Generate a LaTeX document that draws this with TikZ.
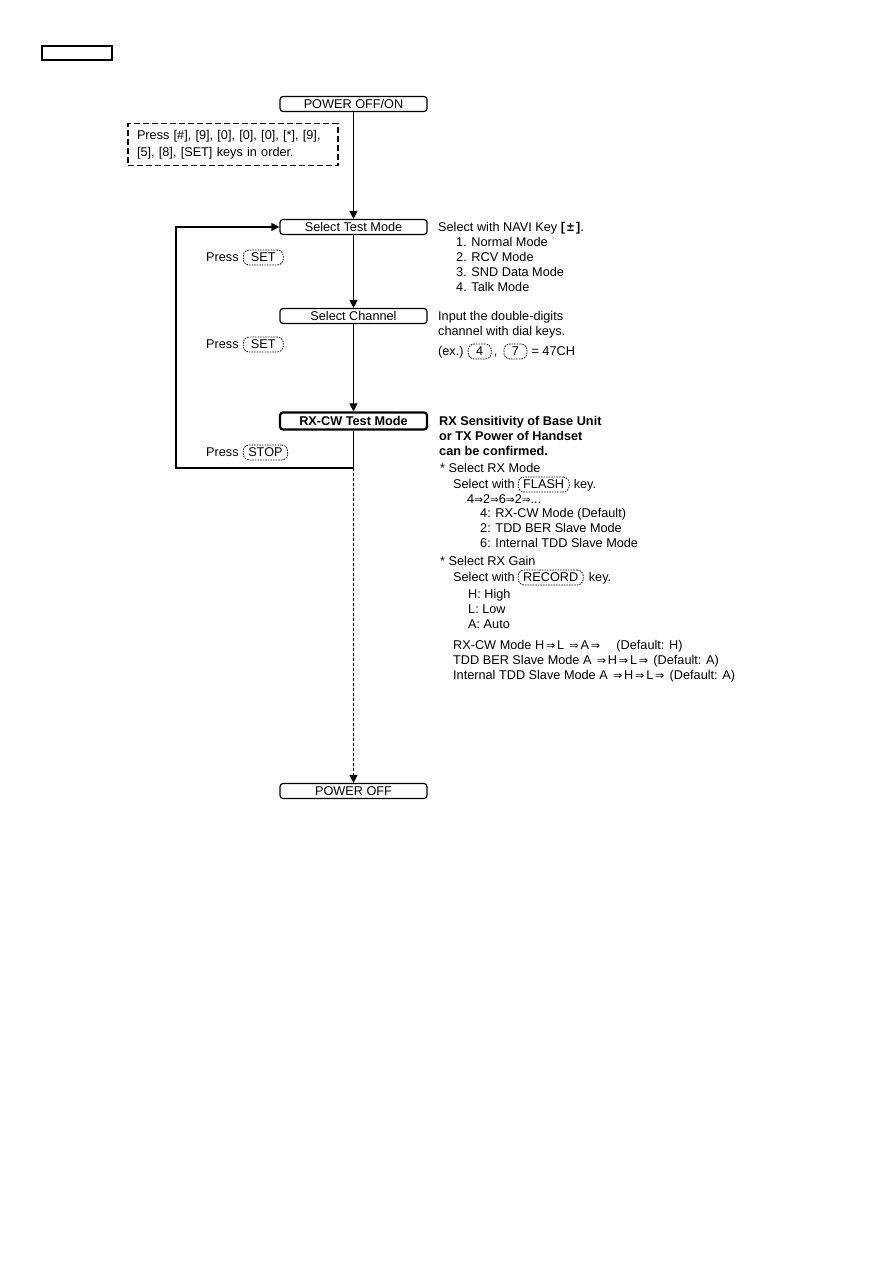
\documentclass[tikz,border=0pt]{standalone}
\usepackage{fontspec}
\setmainfont{Liberation Sans}
\newfontfamily\arrowfont{DejaVu Sans}
\usetikzlibrary{arrows.meta, positioning}
\newcommand{\thento}{{\arrowfont\fontsize{11}{13}\selectfont\,⇒\,}}
\newcommand{\thentotight}{{\arrowfont\fontsize{10.5}{13}\selectfont ⇒}}

\begin{document}
\begin{tikzpicture}[
x=1pt, y=-1pt,
font=\fontsize{12.7}{15}\selectfont,
stepbox/.style={rectangle, draw, rounded corners=3pt, line width=1.2pt,
minimum width=147pt, minimum height=15pt, inner sep=0pt},
keycap/.style={draw, line width=0.8pt, dash pattern=on 1.5pt off 1.1pt,
rounded corners=6pt, inner xsep=5pt, inner ysep=2.5pt,
text height=9pt, text depth=1pt, anchor=base west},
note/.style={anchor=base west, inner sep=0pt},
arr/.style={-{Triangle[length=8pt, width=8pt]}, line width=1.2pt}
]
\useasboundingbox (0,0) rectangle (893,1263);

\node[draw, line width=1.2pt, minimum width=70pt, minimum height=14pt, inner sep=0pt] (tag) at (77,53) {};

% flow boxes
\node[stepbox] (on) at (353.5,104) {POWER OFF/ON};
\node[draw, line width=1.5pt, dash pattern=on 6pt off 3pt, align=left,
text width=192pt, inner xsep=9pt, minimum height=42pt,
font=\fontsize{12.7}{17}\selectfont] (keys) at (233,144.5)
{Press [\#], [9], [0], [0], [0], [*], [9],\\{}[5], [8], [SET] keys in order.};
\node[stepbox] (mode) at (353.5,227) {Select Test Mode};
\node[stepbox] (chan) at (353.5,316) {Select Channel};
\node[stepbox, line width=2.2pt, minimum height=17pt,
font=\fontsize{12.7}{15}\selectfont\bfseries] (rxcw) at (353.5,421) {RX-CW Test Mode};
\node[stepbox] (off) at (353.5,791) {POWER OFF};

% key presses on the left
\node[note] (press1) at (206,261.5) {Press};
\node[keycap, minimum width=40pt] (set1) at ([xshift=4pt]press1.base east) {SET};
\node[note] (press2) at (206,348.5) {Press};
\node[keycap, minimum width=40pt] (set2) at ([xshift=4pt]press2.base east) {SET};
\node[note] (press3) at (206,456.5) {Press};
\node[keycap] (stop) at ([xshift=4pt]press3.base east) {STOP};

% notes on the right
\node[note] (navi) at (438,231) {Select with NAVI Key \textbf{[\,±\,]}.};
\node[note] (m1) at (456,246) {1. Normal Mode};
\node[note] (m2) at (456,261) {2. RCV Mode};
\node[note] (m3) at (456,276) {3. SND Data Mode};
\node[note] (m4) at (456,291) {4. Talk Mode};

\node[note] (in1) at (438,320.5) {Input the double-digits};
\node[note] (in2) at (438,335.5) {channel with dial keys.};
\node[note] (ex) at (438,355.5) {(ex.)};
\node[keycap, minimum width=23pt] (digit4) at ([xshift=4pt]ex.base east) {4};
\node[note] (comma) at ([xshift=2pt]digit4.base east) {,};
\node[keycap, minimum width=23pt] (digit7) at ([xshift=6pt]comma.base east) {7};
\node[note] (ch) at ([xshift=4pt]digit7.base east) {= 47CH};

\node[note, font=\fontsize{12.7}{15}\selectfont\bfseries] (rx1) at (439,425.5) {RX Sensitivity of Base Unit};
\node[note, font=\fontsize{12.7}{15}\selectfont\bfseries] (rx2) at (439,440.5) {or TX Power of Handset};
\node[note, font=\fontsize{12.7}{15}\selectfont\bfseries] (rx3) at (439,455.5) {can be confirmed.};

\node[note] (rxmode) at (440,472.5) {* Select RX Mode};
\node[note] (sel1) at (453,488.5) {Select with};
\node[keycap] (flash) at ([xshift=3pt]sel1.base east) {FLASH};
\node[note] (key1) at ([xshift=4pt]flash.base east) {key.};
\node[note] (cycle) at (467,503.5) {4\thentotight2\thentotight6\thentotight2\thentotight...};
\node[note] (r4) at (480,517.5) {4: RX-CW Mode (Default)};
\node[note] (r2) at (480,532.5) {2: TDD BER Slave Mode};
\node[note] (r6) at (480,547.5) {6: Internal TDD Slave Mode};

\node[note] (rxgain) at (440,565.5) {* Select RX Gain};
\node[note] (sel2) at (453,581.5) {Select with};
\node[keycap] (record) at ([xshift=3pt]sel2.base east) {RECORD};
\node[note] (key2) at ([xshift=5pt]record.base east) {key.};
\node[note] (gh) at (468,598.5) {H: High};
\node[note] (gl) at (468,613.5) {L: Low};
\node[note] (ga) at (468,628.5) {A: Auto};

\node[note] (d1) at (453,649.5) {RX-CW Mode H\thento L \thento A\thento\hspace{11pt} (Default: H)};
\node[note] (d2) at (453,664.5) {TDD BER Slave Mode A \thento H\thento L\thento{} (Default: A)};
\node[note] (d3) at (453,679.5) {Internal TDD Slave Mode A \thento H\thento L\thento{} (Default: A)};

% connectors
\coordinate (turn) at (353.5,468);
\coordinate (back) at (176,468);
\draw[arr] (on.south) -- (mode.north);
\draw[arr] (mode.south) -- (chan.north);
\draw[arr] (chan.south) -- (rxcw.north);
\draw[arr] (rxcw.south) -- (turn) -- (back) |- (mode.west);
\draw[arr, dash pattern=on 3pt off 2pt] (turn) -- (off.north);
\end{tikzpicture}
\end{document}
